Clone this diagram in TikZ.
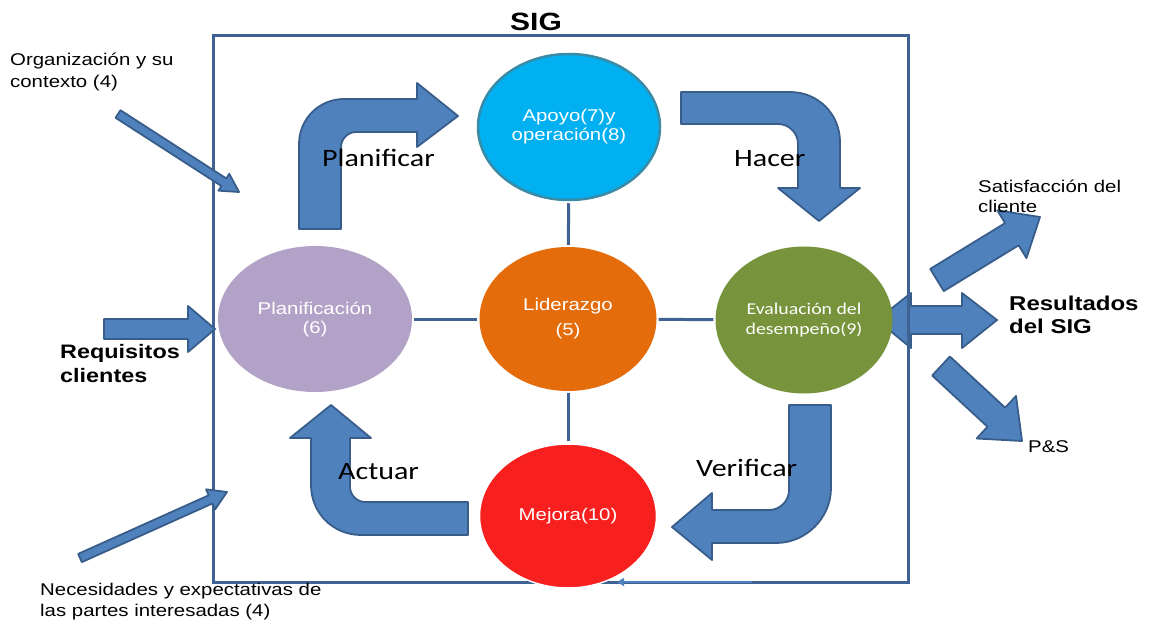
\documentclass[tikz,border=0pt]{standalone}
\usepackage{fontspec}
\setmainfont{Liberation Sans}[FakeStretch=1.2]
\newfontfamily\calibri{Carlito}[FakeStretch=1.2]
\usetikzlibrary{shapes.geometric,calc,arrows.meta}

\definecolor{marco}{HTML}{3D6293}
\definecolor{flecha}{HTML}{4F81BD}
\definecolor{bordeflecha}{HTML}{385D8A}
\definecolor{celeste}{HTML}{00B0F0}
\definecolor{bordeceleste}{HTML}{3A8BA6}
\definecolor{naranja}{HTML}{E46C0A}
\definecolor{lila}{HTML}{B2A2C7}
\definecolor{oliva}{HTML}{77933C}
\definecolor{rojo}{HTML}{F8201E}

% straight block arrow: tail, tip, half shaft, half head, head length
\newcommand{\flechabloque}[5]{%
  \coordinate (base) at ($(#2)!#5!(#1)$);
  \filldraw[bloque] ($(#1)!#3!90:(#2)$) -- ($(base)!#3!-90:(#1)$) -- ($(base)!#4!-90:(#1)$) -- (#2)
    -- ($(base)!#4!90:(#1)$) -- ($(base)!#3!90:(#1)$) -- ($(#1)!#3!-90:(#2)$) -- cycle;}

\begin{document}
\begin{tikzpicture}[x=1pt, y=-1pt,
    bloque/.style={fill=flecha, draw=bordeflecha, line width=1.8pt, line join=round},
    elipse/.style={ellipse, inner sep=0pt, text=white, align=center, minimum width=177pt, minimum height=144pt, font=\fontsize{17}{19}\selectfont},
    enlace/.style={draw=marco, line width=3pt, shorten >=2pt, shorten <=2pt},
    texto/.style={inner sep=0pt, align=left, anchor=north west, font=\fontsize{17}{22}\selectfont},
    negrita/.style={inner sep=0pt, align=left, anchor=north west, font=\bfseries\fontsize{20}{24}\selectfont},
    fase/.style={inner sep=0pt, anchor=base west, font=\calibri\fontsize{25}{30}\selectfont}]

  \useasboundingbox (0,0) rectangle (1150,623);

  % Results arrow (behind the frame)
  \filldraw[bloque] (877,320) -- (911,293) -- (911,306) -- (962,306) -- (962,293) -- (997,320)
    -- (962,348) -- (962,334) -- (911,334) -- (911,348) -- cycle;

  % Frame
  \draw[draw=marco, line width=3pt] (213,36) rectangle (908,582);
  \node[inner sep=0pt, anchor=base, font=\bfseries\fontsize{25}{30}\selectfont] (sig) at (536,31) {SIG};

  % Nodes
  \node[elipse, fill=celeste, draw=bordeceleste, line width=2.5pt, minimum width=182pt, minimum height=146pt] at (569,127) (apoyo) {Apoyo(7)y\\operación(8)};
  \node[elipse, fill=naranja] at (568,319) (liderazgo) {Liderazgo\\[6pt](5)};
  \node[elipse, fill=lila, minimum width=194pt, minimum height=146pt] at (315,319) (planificacion) {Planificación\\(6)};
  \node[elipse, fill=oliva, font=\calibri\fontsize{16.5}{20}\selectfont, minimum height=147pt] at (804,320) (evaluacion) {Evaluación del\\desempeño(9)};
  \node[elipse, fill=rojo, draw=white, line width=1.5pt] at (568,516) (mejora) {Mejora(10)};

  \draw[enlace] (apoyo) -- (liderazgo);
  \draw[enlace] (planificacion) -- (liderazgo);
  \draw[enlace] (liderazgo) -- (evaluacion);
  \draw[enlace] (liderazgo) -- (mejora);

  % Small return arrow on the bottom edge
  \coordinate (retorno) at (752,582);
  \coordinate (llegada) at (617,582);
  \draw[draw=flecha, line width=1.5pt, -{Triangle[length=7pt,width=8pt]}] (retorno) -- (llegada);

  % PDCA arrows
  \filldraw[bloque] (299,229) -- (299,144) .. controls (299,119) and (319,99) .. (344,99) -- (417,99)
    -- (417,83) -- (458,116) -- (417,147) -- (417,132) -- (356,132)
    .. controls (348,132) and (341,139) .. (341,147) -- (341,229) -- cycle;
  \filldraw[bloque] (681,92) -- (790,92) .. controls (818,92) and (840,114) .. (840,142) -- (840,188)
    -- (860,188) -- (819,221) -- (778,188) -- (798,188) -- (798,144)
    .. controls (798,133) and (789,124) .. (778,124) -- (681,124) -- cycle;
  \filldraw[bloque] (789,405) -- (831,405) -- (831,488) .. controls (831,518) and (806,543) .. (776,543)
    -- (712,543) -- (712,560) -- (672,527) -- (712,493) -- (712,510) -- (769,510)
    .. controls (780,510) and (789,501) .. (789,490) -- cycle;
  \filldraw[bloque] (468,502) -- (365,502) .. controls (357,502) and (350,495) .. (350,487) -- (350,438)
    -- (371,438) -- (331,405) -- (290,438) -- (311,438) -- (311,485)
    .. controls (311,513) and (333,535) .. (361,535) -- (468,535) -- cycle;

  \node[fase] (planificar) at (322,166) {Planificar};
  \node[fase] (hacer) at (734,166) {Hacer};
  \node[fase] (verificar) at (696,476) {Verificar};
  \node[fase] (actuar) at (338,479) {Actuar};

  % Inputs
  \coordinate (colaorg) at (118,114);
  \coordinate (puntaorg) at (239,192);
  \flechabloque{colaorg}{puntaorg}{4.5pt}{10pt}{18pt}
  \coordinate (colareq) at (104,329);
  \coordinate (puntareq) at (215,329);
  \flechabloque{colareq}{puntareq}{10pt}{23pt}{27pt}
  \coordinate (colanec) at (80,558);
  \coordinate (puntanec) at (227,492);
  \flechabloque{colanec}{puntanec}{4.5pt}{11pt}{18pt}

  % Outputs
  \coordinate (colasat) at (937,280);
  \coordinate (puntasat) at (1040,217);
  \flechabloque{colasat}{puntasat}{13pt}{28pt}{33pt}
  \coordinate (colapys) at (941,366);
  \coordinate (puntapys) at (1022,441);
  \flechabloque{colapys}{puntapys}{13pt}{29pt}{35pt}

  % Texts
  \node[texto] (contexto) at (10,53) {Organización y su\\contexto (4)};
  \node[negrita, font=\bfseries\fontsize{19.5}{24}\selectfont] (requisitos) at (60,344) {Requisitos\\clientes};
  \node[texto, font=\fontsize{17}{21}\selectfont] (necesidades) at (40,583) {Necesidades y expectativas de\\las partes interesadas (4)};
  \node[texto, font=\fontsize{17}{19.5}\selectfont] (satisfaccion) at (978,180) {Satisfacción del\\cliente};
  \node[negrita, font=\bfseries\fontsize{20}{23}\selectfont] (resultados) at (1009,296) {Resultados\\del SIG};
  \node[texto, anchor=base west] (pys) at (1028,452) {P\&S};
\end{tikzpicture}
\end{document}
